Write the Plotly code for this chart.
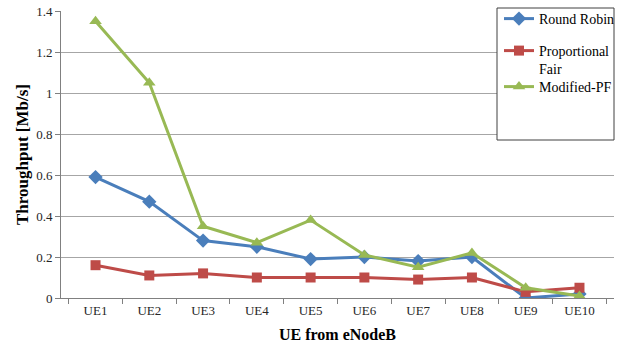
import plotly.graph_objects as go

categories = ["UE1", "UE2", "UE3", "UE4", "UE5", "UE6", "UE7", "UE8", "UE9", "UE10"]
round_robin = [0.59, 0.47, 0.28, 0.25, 0.19, 0.20, 0.18, 0.20, 0.00, 0.02]
proportional_fair = [0.16, 0.11, 0.12, 0.10, 0.10, 0.10, 0.09, 0.10, 0.03, 0.05]
modified_pf = [1.35, 1.05, 0.35, 0.27, 0.38, 0.21, 0.15, 0.22, 0.05, 0.01]
y_ticks = [0, 0.2, 0.4, 0.6, 0.8, 1.0, 1.2, 1.4]
y_tick_labels = ["0", "0.2", "0.4", "0.6", "0.8", "1", "1.2", "1.4"]

font = "Liberation Serif"

fig = go.Figure()
fig.add_trace(go.Scatter(x=categories, y=round_robin, name="Round Robin", legend="legend",
                         mode="lines+markers", line=dict(color="#4A7EBB", width=3),
                         marker=dict(symbol="diamond", size=11, color="#4A7EBB")))
fig.add_trace(go.Scatter(x=categories, y=proportional_fair, name="Proportional<br>Fair", legend="legend2",
                         mode="lines+markers", line=dict(color="#BE4B48", width=3),
                         marker=dict(symbol="square", size=10, color="#BE4B48")))
fig.add_trace(go.Scatter(x=categories, y=modified_pf, name="Modified-PF", legend="legend3",
                         mode="lines+markers", line=dict(color="#98B954", width=3),
                         marker=dict(symbol="triangle-up", size=11, color="#98B954")))

fig.add_shape(type="rect", xref="paper", yref="paper",
              x0=(497 - 61) / 553, x1=1.0, y0=(298 - 140) / 287, y1=(298 - 8) / 287,
              line=dict(color="#404040", width=1), fillcolor="white", layer="above")

def leg(ypix, valign="middle"):
    return dict(x=(499 - 61) / 553, y=(298 - ypix) / 287, xanchor="left", yanchor="middle",
                bgcolor="rgba(0,0,0,0)", borderwidth=0, valign=valign,
                font=dict(family=font, size=14, color="black"), itemwidth=30)

fig.update_layout(
    width=619, height=347,
    margin=dict(l=61, r=5, t=11, b=49, autoexpand=False),
    plot_bgcolor="white", paper_bgcolor="white",
    font=dict(family=font, size=13, color="black"),
    showlegend=True,
    legend=leg(19),
    legend2=leg(60, "top"),
    legend3=leg(87),
    xaxis=dict(type="category", tickson="boundaries", ticks="outside", ticklen=5,
               tickcolor="#808080", showline=True, linecolor="#808080",
               showgrid=False, tickfont=dict(family=font, size=13, color="#262626"), automargin=False,
               title=dict(text="<b>UE from eNodeB</b>", font=dict(family=font, size=16), standoff=12)),
    yaxis=dict(range=[0, 1.4], tickvals=y_ticks, ticktext=y_tick_labels,
               ticks="outside", ticklen=5, tickcolor="#808080",
               showline=True, linecolor="#808080", gridcolor="#A6A6A6",
               zeroline=False, tickfont=dict(family=font, size=13, color="#262626"), automargin=False,
               title=dict(text="<b>Throughput [Mb/s]</b>", font=dict(family=font, size=17), standoff=3)),
)

fig.write_html("out.html", config={"displayModeBar": False},
               post_script="document.body.style.margin='0';document.body.style.overflow='hidden';")
